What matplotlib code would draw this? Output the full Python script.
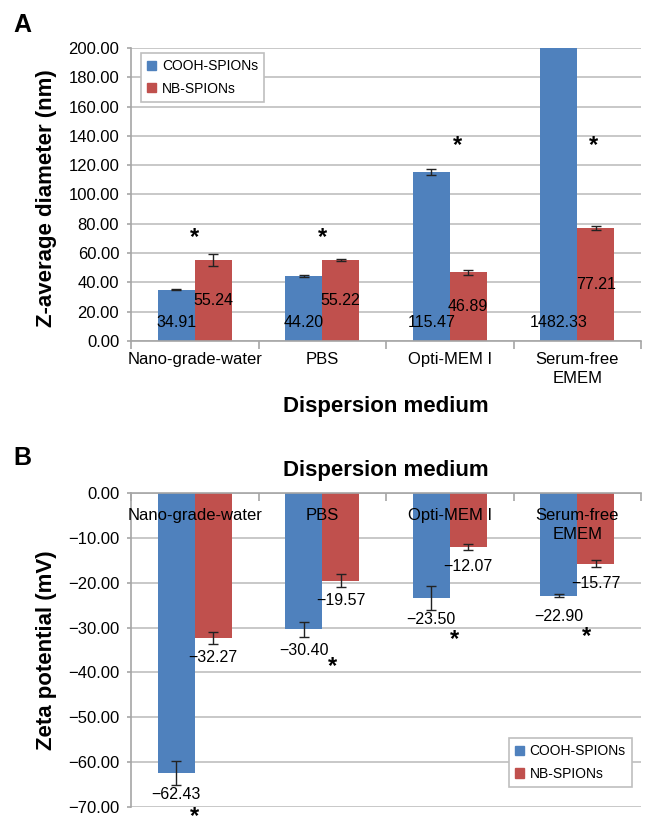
import matplotlib
matplotlib.use('Agg')
import matplotlib.pyplot as plt
import numpy as np
from matplotlib.patches import Patch
from matplotlib.ticker import FuncFormatter

plt.rcParams['font.family'] = ['Liberation Sans', 'DejaVu Sans']

# ---------------- data ----------------
media = ['Nano-grade-water', 'PBS', 'Opti-MEM I', 'Serum-free\nEMEM']
series = ['COOH-SPIONs', 'NB-SPIONs']

size_cooh = [34.91, 44.20, 115.47, 1482.33]
size_nb = [55.24, 55.22, 46.89, 77.21]
size_cooh_err = [0.3, 0.7, 2.2, 0.0]
size_nb_err = [4.3, 0.8, 1.5, 1.2]

zeta_cooh = [-62.43, -30.40, -23.50, -22.90]
zeta_nb = [-32.27, -19.57, -12.07, -15.77]
zeta_cooh_err = [2.7, 1.6, 2.7, 0.3]
zeta_nb_err = [1.3, 1.4, 0.75, 0.85]

size_star_x = [0.0, 1.0, 2.06, 3.13]
size_star_y = [70.3, 70.3, 133.1, 133.1]
zeta_star_x = [0.0, 1.08, 2.04, 3.07]
zeta_star_y = [-72.1, -38.7, -32.6, -31.9]

size_ticks = np.arange(0, 201, 20)
zeta_ticks = np.arange(-70, 1, 10)

# ---------------- style ----------------
BLUE = '#4F81BD'
RED = '#C0504D'
GRID = '#BFBFBF'
AXC = '#A6A6A6'
W = 0.29
LBL = 11.5

def fmt(v):
    return f'{v:.2f}'.replace('-', '\u2212')

fig = plt.figure(figsize=(6.54, 8.32), dpi=100)
axA = fig.add_axes([131/654, 1-341/832, 510/654, 293/832])
axB = fig.add_axes([131/654, 1-807.3/832, 510/654, 314.6/832])

x = np.arange(len(media))

def common(ax, ticks):
    ax.set_xlim(-0.5, 3.5)
    ax.set_axisbelow(False)
    for t in ticks:
        ax.axhline(t, color=GRID, lw=1.2, zorder=0.5)
    ax.spines['right'].set_visible(False)
    ax.spines['left'].set_color(AXC)
    ax.spines['left'].set_linewidth(1.2)
    ax.spines['left'].set_zorder(0.6)
    ax.set_yticks(ticks)
    ax.yaxis.set_major_formatter(FuncFormatter(lambda v, p: fmt(v)))
    ax.tick_params(axis='y', length=3, color=AXC, width=1.2, pad=5.5, labelsize=12)
    ax.set_xticks(x)
    ax.set_xticklabels(media, fontsize=12, linespacing=1.35)
    ax.set_xticks(np.arange(-0.5, 4, 1), minor=True)

def legend(ax, **kw):
    leg = ax.legend(handles=[Patch(color=BLUE, label=series[0]), Patch(color=RED, label=series[1])],
                    borderaxespad=0, fontsize=10, handlelength=0.65, handleheight=0.65,
                    handletextpad=0.4, labelspacing=0.6, fancybox=False, framealpha=1,
                    edgecolor=GRID, borderpad=0.45, **kw)
    leg.get_frame().set_linewidth(1.2)
    leg.set_zorder(5)
    return leg

ekw = dict(ecolor='#222222', elinewidth=1, capsize=3.5, capthick=1)

# ---------------- panel A ----------------
common(axA, size_ticks)
axA.spines['top'].set_visible(False)
axA.spines['bottom'].set_color(AXC)
axA.spines['bottom'].set_linewidth(1.2)
axA.set_ylim(0, 200)
axA.tick_params(axis='x', which='major', length=0, pad=8)
axA.tick_params(axis='x', which='minor', length=6, color=AXC, width=1.2, direction='out')

axA.bar(x - W/2, size_cooh, W, color=BLUE, yerr=size_cooh_err, error_kw=ekw)
axA.bar(x + W/2, size_nb, W, color=RED, yerr=size_nb_err, error_kw=ekw)

for xi, v in zip(x, size_cooh):
    axA.annotate(fmt(v), (xi - W/2, 0), xytext=(0, 13), textcoords='offset points',
                 ha='center', va='center', fontsize=LBL)
for xi, v in zip(x, size_nb):
    axA.text(xi + W/2, v/2, fmt(v), ha='center', va='center', fontsize=LBL)
for sx, sy in zip(size_star_x, size_star_y):
    axA.text(sx, sy, '*', ha='center', va='center', fontsize=17, fontweight='bold')

axA.set_ylabel('Z-average diameter (nm)', fontsize=16, fontweight='bold', va='center')
axA.yaxis.set_label_coords(-0.165, 0.486)
axA.set_xlabel('Dispersion medium', fontsize=16, fontweight='bold', va='center')
axA.xaxis.set_label_coords(0.5, -0.225)
legend(axA, loc='upper left', bbox_to_anchor=(0.0196, 0.983))

# ---------------- panel B ----------------
common(axB, zeta_ticks)
axB.spines['bottom'].set_visible(False)
axB.spines['top'].set_color(AXC)
axB.spines['top'].set_linewidth(1.2)
axB.set_ylim(-70, 0)
axB.tick_params(axis='x', which='major', length=0, top=False, bottom=False,
                labeltop=True, labelbottom=False, pad=-11)
axB.tick_params(axis='x', which='minor', length=6, color=AXC, width=1.2,
                direction='in', top=True, bottom=False)
for t in axB.xaxis.get_major_ticks():
    t.label2.set_va('top')

axB.bar(x - W/2, zeta_cooh, W, color=BLUE, yerr=zeta_cooh_err, error_kw=ekw)
axB.bar(x + W/2, zeta_nb, W, color=RED, yerr=zeta_nb_err, error_kw=ekw)

for xi, v in zip(x, zeta_cooh):
    axB.annotate(fmt(v), (xi - W/2, v), xytext=(0, -15), textcoords='offset points',
                 ha='center', va='center', fontsize=LBL)
for xi, v in zip(x, zeta_nb):
    axB.annotate(fmt(v), (xi + W/2, v), xytext=(0, -14), textcoords='offset points',
                 ha='center', va='center', fontsize=LBL)
for sx, sy in zip(zeta_star_x, zeta_star_y):
    axB.text(sx, sy, '*', ha='center', va='center', fontsize=17, fontweight='bold',
             clip_on=False)

axB.set_ylabel('Zeta potential (mV)', fontsize=16, fontweight='bold', va='center')
axB.yaxis.set_label_coords(-0.165, 0.5)
axB.set_title('Dispersion medium', fontsize=16, fontweight='bold', va='center',
              y=1.072, pad=0)
legend(axB, loc='lower right', bbox_to_anchor=(0.982, 0.0645))

fig.text(22/654, 1-25/832, 'A', fontsize=18, fontweight='bold', ha='center', va='center')
fig.text(22/654, 1-458/832, 'B', fontsize=18, fontweight='bold', ha='center', va='center')

fig.savefig('out.png', dpi=100)
